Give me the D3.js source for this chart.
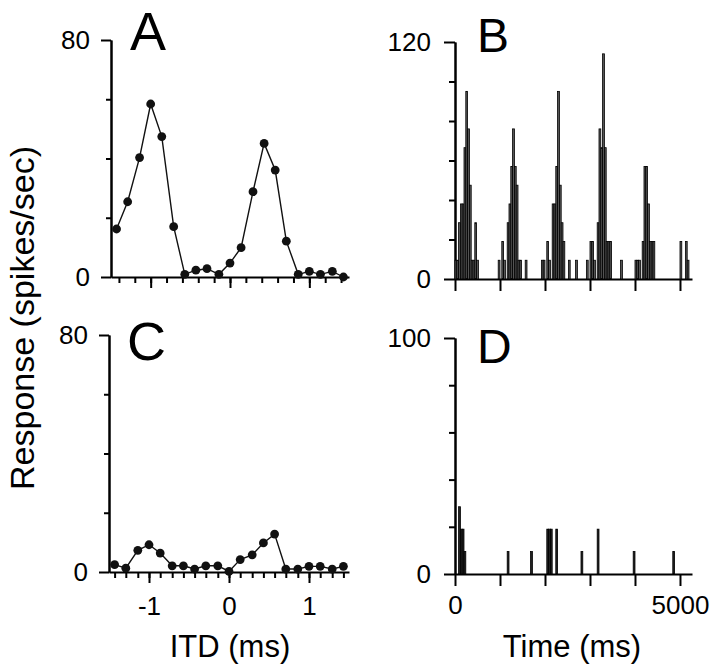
<!DOCTYPE html>
<html>
<head>
<meta charset="utf-8">
<script src="https://cdn.jsdelivr.net/npm/d3@7"></script>
<style>
  body { margin: 0; background: #fff; }
  svg { font-family: "Liberation Sans", Arial, sans-serif; }
</style>
</head>
<body>
<div id="chart"></div>
<script>
// ITD tuning curves (panels A and C)
const itdValues = [-1.43, -1.29, -1.14, -1.0, -0.86, -0.71, -0.57, -0.43, -0.29, -0.14,
    0, 0.14, 0.29, 0.43, 0.57, 0.71, 0.86, 1.0, 1.14, 1.29, 1.43]
const itdRatesA = [16.2, 25.4, 40.3, 58.4, 47.4, 17.0, 0.9, 2.3, 2.8, 0.9,
    4.7, 9.9, 28.8, 45.1, 36.1, 12.1, 0.9, 1.9, 0.9, 1.9, 0]
const itdRatesC = [2.5, 1.3, 7.3, 9.2, 6.4, 2.1, 2.1, 1.0, 2.1, 2.1,
    0.2, 4.2, 5.8, 9.8, 12.8, 1.0, 1.0, 1.9, 1.9, 1.0, 1.9]
const itdTicksA = [-1.4, -1.2, -1.0, -0.8, -0.6, -0.4, -0.2, 0, 0.2, 0.4, 0.6, 0.8, 1.0, 1.2, 1.4]
const itdTicksC = itdValues
const itdMajorTicks = [-1, 0, 1]

// PSTHs (panels B and D): bin start (ms) and rate (spikes/sec)
const binWidth = 40
const psthTimesB = [
    0, 40, 80, 120, 160, 200, 240, 280, 320, 360, 400, 440, 480,
    960, 1040, 1080, 1160, 1200, 1240, 1280, 1320, 1360, 1400, 1440, 1560,
    1920, 1960, 2040, 2080, 2160, 2200, 2240, 2280, 2320, 2360, 2400, 2520, 2680,
    2920, 3000, 3040, 3080, 3160, 3200, 3240, 3280, 3320, 3360, 3400, 3440, 3680,
    4000, 4040, 4080, 4160, 4200, 4240, 4280, 4320, 4360, 4400,
    5000, 5120, 5160]
const psthRatesB = [
    9.5, 9.5, 28.5, 38, 38, 66.5, 95, 76, 47.5, 9.5, 9.5, 28.5, 9.5,
    9.5, 19, 9.5, 28.5, 38, 57, 76, 57, 47.5, 9.5, 9.5, 9.5,
    9.5, 9.5, 19, 9.5, 38, 38, 57, 95, 47.5, 28.5, 19, 9.5, 9.5,
    9.5, 19, 19, 9.5, 28.5, 76, 66.5, 114, 66.5, 19, 19, 19, 9.5,
    9.5, 9.5, 9.5, 19, 57, 57, 38, 19, 19, 19,
    19, 19, 9.5]
const psthTimesD = [80, 120, 160, 200, 1160, 1680, 2040, 2080, 2120, 2240, 2800, 3160, 3960, 4840]
const psthRatesD = [28.5, 19, 19, 9.5, 9.5, 9.5, 19, 19, 19, 19, 9.5, 19, 9.5, 9.5]
const timeTicks = [0, 1000, 2000, 3000, 4000, 5000]
const timeLabels = [0, 5000]

const svg = d3.select("#chart")
    .append("svg")
    .attr("width", 720)
    .attr("height", 670)

const styleAxis = (g, fontSize) => {
    g.select(".domain").attr("stroke", "#000").attr("stroke-width", 2)
    g.selectAll(".tick line").attr("stroke", "#000").attr("stroke-width", 2)
    g.selectAll("text").attr("fill", "#000").attr("font-size", fontSize)
        .attr("font-family", "Liberation Sans, Arial, sans-serif")
}

function drawPanel(p) {
    const xScale = d3.scaleLinear().domain(p.xDomain).range([p.left, p.right])
    const yScale = d3.scaleLinear().domain([0, p.yMax]).range([p.bottom, p.top])
    const bounds = svg.append("g")

    // y axis: short minor ticks, then labelled end ticks
    bounds.append("g")
        .attr("transform", `translate(${p.left},0)`)
        .call(d3.axisLeft(yScale).tickValues(p.yMinor).tickSize(p.yMinorLen)
            .tickSizeOuter(0).tickFormat(""))
        .call(g => styleAxis(g, 26))
    bounds.append("g")
        .attr("transform", `translate(${p.left},0)`)
        .call(d3.axisLeft(yScale).tickValues([0, p.yMax]).tickSize(p.yMajorLen)
            .tickSizeOuter(0).tickPadding(p.yPad).tickFormat(d => String(d)))
        .call(g => styleAxis(g, 26))

    // x axis
    bounds.append("g")
        .attr("transform", `translate(0,${p.bottom})`)
        .call(d3.axisBottom(xScale).tickValues(p.xMinor).tickSize(p.xMinorLen)
            .tickSizeOuter(0).tickFormat(""))
        .call(g => styleAxis(g, 26))
    const xMajor = bounds.append("g")
        .attr("transform", `translate(0,${p.bottom})`)
        .call(d3.axisBottom(xScale).tickValues(p.xMajor).tickSize(p.xMajorLen)
            .tickSizeOuter(0).tickPadding(p.xPad)
            .tickFormat(d => p.xLabels && p.xLabels.includes(d) ? String(d) : ""))
        .call(g => styleAxis(g, 26))
    xMajor.select(".domain").remove()

    // data
    if (p.type === "line") {
        const lineGenerator = d3.line()
            .x((d, i) => xScale(p.xs[i]))
            .y(d => yScale(d))
        bounds.append("path")
            .attr("d", lineGenerator(p.ys))
            .attr("fill", "none")
            .attr("stroke", "#111")
            .attr("stroke-width", 1.4)
        bounds.selectAll("circle.dot")
            .data(p.ys)
            .enter()
            .append("circle")
            .attr("cx", (d, i) => xScale(p.xs[i]))
            .attr("cy", d => yScale(d))
            .attr("r", 4.4)
            .attr("fill", "#111")
    } else {
        bounds.selectAll("rect.bin")
            .data(p.ys)
            .enter()
            .append("rect")
            .attr("x", (d, i) => xScale(p.xs[i]))
            .attr("width", (d, i) => xScale(p.xs[i] + binWidth) - xScale(p.xs[i]))
            .attr("y", d => yScale(d))
            .attr("height", d => yScale(0) - yScale(d))
            .attr("fill", p.barFill)
            .attr("stroke", "#000")
            .attr("stroke-width", 0.8)
    }

    // panel letter
    bounds.append("text")
        .attr("x", p.letterX)
        .attr("y", p.letterY)
        .attr("font-size", p.letterSize)
        .attr("fill", "#000")
        .text(p.letter)

    if (p.title) {
        bounds.append("text")
            .attr("x", p.titleX)
            .attr("y", 657)
            .attr("text-anchor", "middle")
            .attr("font-size", 31)
            .attr("fill", "#000")
            .text(p.title)
    }
}

const itdPanel = {
    type: "line", xs: itdValues, xDomain: [-1.5, 1.5], left: 111, right: 349,
    xMajor: itdMajorTicks, xMinorLen: 6, xMajorLen: 11, xPad: 14,
    yMinor: [20, 40, 60], yMax: 80, yMinorLen: 5, yMajorLen: 10, yPad: 11,
    letterSize: 54
}
const timePanel = {
    type: "bars", xDomain: [0, 5267], left: 455, right: 692,
    xMajor: timeTicks, xMinor: [], xMinorLen: 0, xMajorLen: 12, xPad: 10,
    yMinorLen: 6, yMajorLen: 11, yPad: 13, letterSize: 48
}

drawPanel({ ...itdPanel, ys: itdRatesA, xMinor: itdTicksA, top: 40, bottom: 277,
    letter: "A", letterX: 130, letterY: 50 })
drawPanel({ ...itdPanel, ys: itdRatesC, xMinor: itdTicksC, top: 335, bottom: 572, left: 109,
    xLabels: itdMajorTicks, title: "ITD (ms)", titleX: 230,
    letter: "C", letterX: 127, letterY: 360 })
drawPanel({ ...timePanel, xs: psthTimesB, ys: psthRatesB, yMax: 120, barFill: "#555",
    yMinor: [20, 40, 60, 80, 100], top: 42, bottom: 279,
    letter: "B", letterX: 477, letterY: 52 })
drawPanel({ ...timePanel, xs: psthTimesD, ys: psthRatesD, yMax: 100, barFill: "#222",
    yMinor: [20, 40, 60, 80], top: 338, bottom: 574,
    xLabels: timeLabels, title: "Time (ms)", titleX: 572,
    letter: "D", letterX: 477, letterY: 363 })

// shared y title
svg.append("text")
    .attr("transform", "translate(34,318) rotate(-90)")
    .attr("text-anchor", "middle")
    .attr("font-size", 34)
    .attr("fill", "#000")
    .text("Response (spikes/sec)")
</script>
</body>
</html>
